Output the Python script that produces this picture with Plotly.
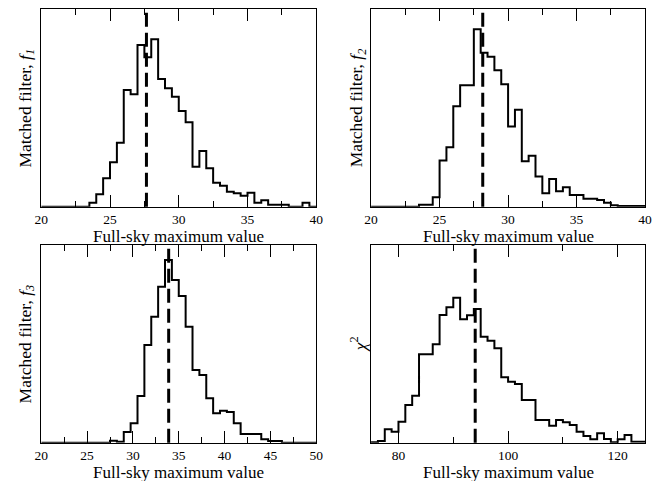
import plotly.graph_objects as go

# ---------------- data ----------------
p1_bin_start = 20.0
p1_bin_width = 0.5
p1_counts = [0, 0, 0, 0, 0, 0, 0, 12, 37, 85, 133, 192, 350, 337, 485, 448, 502, 383, 355, 330,
             287, 253, 120, 167, 115, 72, 63, 45, 40, 33, 42, 12, 19, 6, 6, 6, 0, 0, 12, 0]
p1_marker = 27.65

p2_bin_start = 20.0
p2_bin_width = 0.5
p2_counts = [0, 0, 0, 0, 0, 0, 0, 6, 6, 28, 138, 178, 300, 363, 363, 530, 460, 448, 408, 366,
             240, 290, 136, 152, 90, 40, 83, 46, 58, 35, 35, 24, 24, 20, 12, 4, 2, 2, 2, 2]
p2_marker = 28.15

p3_bin_start = 20.0
p3_bin_width = 0.75
p3_counts = [0, 0, 0, 0, 0, 0, 0, 0, 0, 0, 6, 3, 32, 58, 140, 293, 378, 468, 548, 488,
             440, 348, 218, 203, 133, 88, 96, 92, 58, 26, 26, 26, 10, 5, 5, 0, 0, 0, 0, 0]
p3_marker = 33.9

p4_bin_start = 75.0
p4_bin_width = 1.25
p4_counts = [1, 5, 40, 33, 63, 113, 141, 265, 265, 295, 383, 406, 435, 370, 382, 401, 318, 306, 283, 196,
             183, 176, 128, 128, 68, 68, 51, 68, 61, 53, 33, 20, 10, 28, 11, 1, 10, 23, 3, 3]
p4_marker = 94.0

x_ranges = [[20, 40], [20, 40], [20, 50], [75, 125]]
x_tickvals = [[20, 25, 30, 35, 40], [20, 25, 30, 35, 40], [20, 25, 30, 35, 40, 45, 50], [80, 100, 120]]
y_maxes = [592, 590, 593, 593]
x_minor_dticks = [2.5, 2.5, 2.5, 10]
y_titles = ["Matched filter, <i>f</i><sub><i>1</i></sub>",
            "Matched filter, <i>f</i><sub><i>2</i></sub>",
            "Matched filter, <i>f</i><sub><i>3</i></sub>",
            "<i>χ</i><sup>2</sup>"]
x_title = "Full-sky maximum value"

panels = [
    (p1_bin_start, p1_bin_width, p1_counts, p1_marker),
    (p2_bin_start, p2_bin_width, p2_counts, p2_marker),
    (p3_bin_start, p3_bin_width, p3_counts, p3_marker),
    (p4_bin_start, p4_bin_width, p4_counts, p4_marker),
]

# ---------------- layout geometry ----------------
W, H = 657, 481
x_doms = [[35 / W, 316 / W], [372 / W, 652 / W], [35 / W, 316 / W], [372 / W, 652 / W]]
y_doms = [[1 - 206.7 / H, 1 - 9.3 / H], [1 - 206.7 / H, 1 - 9.3 / H],
          [1 - 442.7 / H, 1 - 245 / H], [1 - 442.7 / H, 1 - 245 / H]]
ytitle_x = [19 / W, 358 / W, 20 / W, 359 / W]
xtitle_y = [1 - 236 / H, 1 - 236 / H, 1 - 472 / H, 1 - 472 / H]

FONT = "Liberation Serif"

fig = go.Figure()
layout = dict(width=W, height=H, margin=dict(l=0, r=0, t=0, b=0),
              paper_bgcolor="white", plot_bgcolor="white", showlegend=False,
              font=dict(family=FONT, color="black"))
shapes = []
annotations = []

for i, (start, width, counts, marker) in enumerate(panels):
    n = len(counts)
    edges = [start + k * width for k in range(n + 1)]
    xs = [edges[0]] + edges[:-1] + [edges[-1]]
    ys = [0] + list(counts) + [0]
    sfx = "" if i == 0 else str(i + 1)
    fig.add_trace(go.Scatter(x=xs, y=ys, mode="lines", line=dict(color="black", width=2, shape="hv"),
                             xaxis="x" + sfx, yaxis="y" + sfx, hoverinfo="skip"))
    layout["xaxis" + sfx] = dict(
        domain=x_doms[i], anchor="y" + sfx, range=x_ranges[i],
        showline=True, linecolor="black", linewidth=1.3, mirror="ticks",
        ticks="inside", ticklen=12, tickwidth=1.3, tickcolor="black",
        tickmode="array", tickvals=x_tickvals[i],
        showgrid=False, zeroline=False,
        ticklabeloverflow="allow",
        tickfont=dict(family=FONT, size=13.5, color="black"),
        minor=dict(ticks="inside", ticklen=6, tickwidth=1.3, tickcolor="black",
                   tickmode="linear", dtick=x_minor_dticks[i], tick0=0, showgrid=False),
    )
    layout["yaxis" + sfx] = dict(
        domain=y_doms[i], anchor="x" + sfx, range=[0, y_maxes[i]],
        showline=True, linecolor="black", linewidth=1.3, mirror=True,
        ticks="", showticklabels=False, showgrid=False, zeroline=False,
    )
    shapes.append(dict(type="line", xref="x" + sfx, yref="y" + sfx + " domain",
                       x0=marker, x1=marker, y0=0, y1=1,
                       line=dict(color="black", width=3, dash="14px,6px")))
    annotations.append(dict(text=y_titles[i], xref="paper", yref="paper",
                            x=ytitle_x[i], y=(y_doms[i][0] + y_doms[i][1]) / 2,
                            xanchor="center", yanchor="middle", textangle=-90,
                            showarrow=False, font=dict(family=FONT, size=17.5, color="black")))
    annotations.append(dict(text=x_title, xref="paper", yref="paper",
                            x=(x_doms[i][0] + x_doms[i][1]) / 2, y=xtitle_y[i],
                            xanchor="center", yanchor="middle",
                            showarrow=False, font=dict(family=FONT, size=17, color="black")))

layout["shapes"] = shapes
layout["annotations"] = annotations
fig.update_layout(**layout)
fig.write_html("out.html", config={"displayModeBar": False},
               post_script="document.body.style.margin='0';document.body.style.overflow='hidden';")
